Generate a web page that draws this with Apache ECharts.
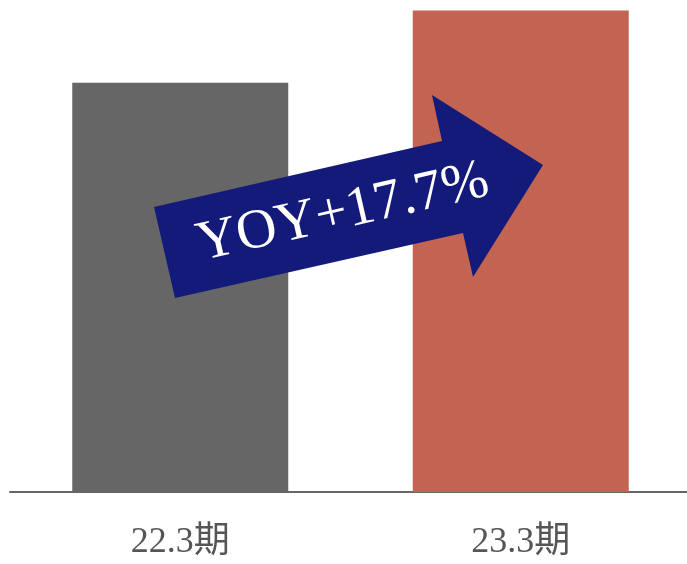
<!DOCTYPE html>
<html><head><meta charset="utf-8">
<style>html,body{margin:0;padding:0;background:#fff}#c{width:687px;height:564px}</style>
<script src="https://cdn.jsdelivr.net/npm/echarts@6/dist/echarts.min.js"></script>
</head><body><div id="c"></div>
<script>
const categories = ['22.3期', '23.3期'];
const values = [100, 117.7];
const barColors = ['#666666', '#c36352'];
const yoyLabel = 'YOY+17.7%';

const chart = echarts.init(document.getElementById('c'));
chart.setOption({
  animation: false,
  grid: { left: 10, width: 681, top: 1, bottom: 72, containLabel: false, outerBoundsMode: 'none' },
  xAxis: {
    type: 'category', data: categories,
    axisLine: { lineStyle: { color: '#666', width: 2 } },
    axisTick: { show: false },
    axisLabel: { margin: 33, fontSize: 36, color: '#555', fontFamily: '"Liberation Serif","Noto Sans CJK JP",serif' }
  },
  yAxis: { type: 'value', min: 0, max: 120, show: false, splitLine: { show: false } },
  series: [{
    type: 'bar', barWidth: 216,
    data: values.map((v, i) => ({ value: v, itemStyle: { color: barColors[i] } }))
  }],
  graphic: [
    { type: 'polygon', z: 10,
      shape: { points: [[175,298],[154,207],[442,141],[432,95],[543,165],[473,277],[463,233]] },
      style: { fill: '#131a7a' } },
    { type: 'text', z: 11, x: 343, y: 213, rotation: 12.8 * Math.PI / 180,
      style: { text: yoyLabel, fill: '#fff', fontSize: 56, fontFamily: '"Liberation Serif",serif',
               align: 'center', verticalAlign: 'middle' } }
  ]
});
</script></body></html>
